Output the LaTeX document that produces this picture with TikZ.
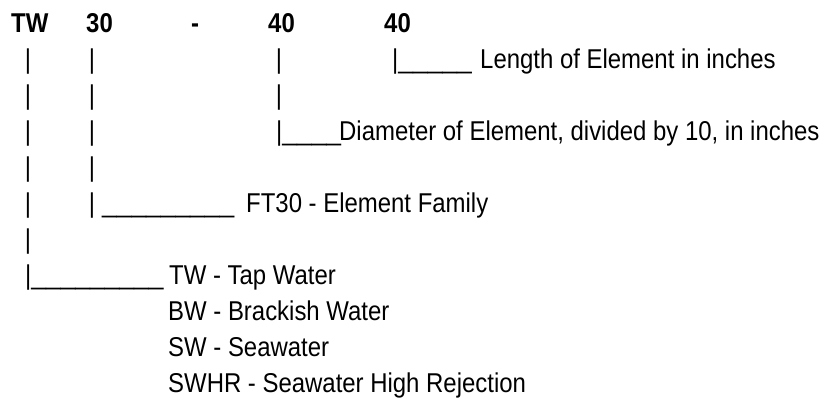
\documentclass[tikz,border=0pt]{standalone}
\usepackage{fontspec}
\setmainfont[FakeStretch=0.88]{Liberation Sans}
\newfontfamily\linefont[FakeStretch=0.97]{Liberation Sans}
\tikzset{
  txt/.style={anchor=base west, inner sep=0pt, font=\fontsize{27.2}{32}\selectfont},
  head/.style={txt, font=\fontsize{27.2}{32}\selectfont\bfseries},
  pipe/.style={anchor=base, inner sep=0pt, font=\fontsize{27.2}{32}\selectfont},
  rule/.style={txt, font=\fontsize{27.2}{32}\linefont}
}
\begin{document}
\begin{tikzpicture}[x=1pt,y=-1pt]
  \useasboundingbox (0,0) rectangle (824,399);
  \draw
    (11,32) node[head] (tw){TW}
    (86,32) node[head] (n30){30}
    (195,32) node[head, anchor=base] (dash){-}
    (268,32) node[head] (d40){40}
    (384,32) node[head] (l40){40};
  \draw
    (28,68) node[pipe] (a1){|}
    (28,104) node[pipe] (a2){|}
    (28,140) node[pipe] (a3){|}
    (28,176) node[pipe] (a4){|}
    (28,212) node[pipe] (a5){|}
    (28,248) node[pipe] (a6){|}
    (92,68) node[pipe] (b1){|}
    (92,104) node[pipe] (b2){|}
    (92,140) node[pipe] (b3){|}
    (92,176) node[pipe] (b4){|}
    (92,212) node[pipe] (b5){|}
    (279,68) node[pipe] (c1){|}
    (279,104) node[pipe] (c2){|}
    (25,284) node[txt] (a7){|{\linefont\_\_\_\_\_\_\_\_\_}}
    (276,140) node[txt] (c3){|{\linefont\_\_\_\_}}
    (392,68) node[txt] (d1){|{\linefont\_\_\_\_\_}}
    (102,212) node[rule] (u5){\_\_\_\_\_\_\_\_\_};
  \draw
    (480,68) node[txt] (len){Length of Element in inches}
    (339,140) node[txt] (dia){Diameter of Element, divided by 10, in inches}
    (246,212) node[txt] (fam){FT30 - Element Family}
    (169,284) node[txt] (tap){TW - Tap Water}
    (168,320) node[txt] (brk){BW - Brackish Water}
    (168,356) node[txt] (sea){SW - Seawater}
    (168,392) node[txt] (shr){SWHR - Seawater High Rejection};
\end{tikzpicture}
\end{document}
